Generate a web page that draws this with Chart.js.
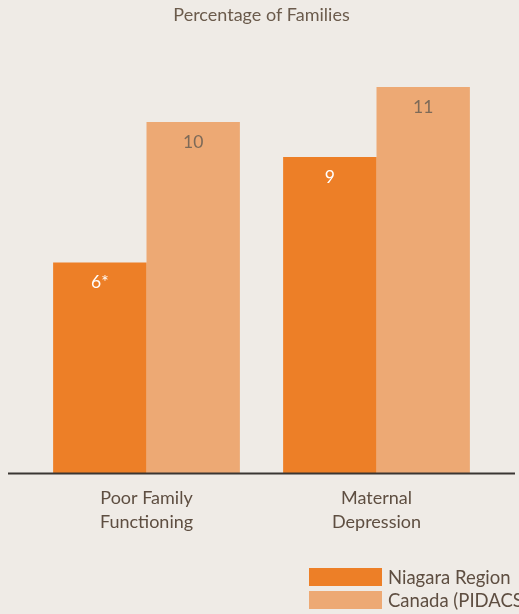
<!DOCTYPE html>
<html><head><meta charset="utf-8">
<script src="https://cdn.jsdelivr.net/npm/chart.js@4"></script>
<style>
html,body{margin:0;padding:0;background:#efebe6;overflow:hidden;}
#wrap{position:relative;width:519px;height:614px;}
#legend{position:absolute;left:309px;top:568px;font-family:Lato,sans-serif;font-size:18.5px;color:#5e4e41;white-space:nowrap;}
.item{display:flex;align-items:center;height:18px;margin-bottom:5px;}
.box{width:73px;height:18px;margin-right:6px;flex:none;}
</style></head><body>
<div id="wrap"><canvas id="c" width="519" height="614"></canvas><div id="legend"></div></div>
<script>
const categories = [["Poor Family","Functioning"],["Maternal","Depression"]];
const seriesNames = ["Niagara Region","Canada (PIDACS)"];
const niagaraValues = [6, 9];
const canadaValues = [10, 11];
const niagaraLabels = ["6*","9"];
const canadaLabels = ["10","11"];
const chartTitle = "Percentage of Families";

const colors = ['#ed7f27','#eda974'];
const labelColors = ['#ffffff','#7d6a58'];
const valueLabels = [niagaraLabels, canadaLabels];

const labelPlugin = {
  id:'valueLabels',
  afterDatasetsDraw(chart){
    const ctx = chart.ctx;
    ctx.save();
    const y0 = chart.scales.y.getPixelForValue(0);
    ctx.strokeStyle = '#3a3633';
    ctx.lineWidth = 2;
    ctx.beginPath();
    ctx.moveTo(8, y0 + 0.5);
    ctx.lineTo(515, y0 + 0.5);
    ctx.stroke();
    ctx.font = '17.5px Lato';
    ctx.textAlign = 'center';
    ctx.textBaseline = 'middle';
    chart.data.datasets.forEach((ds, di) => {
      const meta = chart.getDatasetMeta(di);
      meta.data.forEach((el, i) => {
        ctx.fillStyle = labelColors[di];
        ctx.fillText(valueLabels[di][i], el.x, el.y + 20);
      });
    });
    ctx.restore();
  }
};

new Chart(document.getElementById('c'), {
  type: 'bar',
  data: {
    labels: categories,
    datasets: [
      {label: seriesNames[0], data: niagaraValues, backgroundColor: colors[0], borderWidth:0},
      {label: seriesNames[1], data: canadaValues, backgroundColor: colors[1], borderWidth:0}
    ]
  },
  options: {
    responsive: false,
    animation: false,
    layout: {padding: {left: 31.5, right: 27.5, top: 0, bottom: 67}},
    categoryPercentage: 0.812,
    barPercentage: 1,
    plugins: {
      legend: {display: false},
      tooltip: {enabled: false},
      title: {
        display: true, text: chartTitle, color: '#6b5b4c',
        font: {family: 'Lato', size: 18, weight: 'normal', lineHeight: 1.2},
        padding: {top: 4.5, bottom: 25.7}
      }
    },
    scales: {
      y: {display: false, min: 0, max: 12},
      x: {
        grid: {display: false, drawTicks: false},
        border: {display: false},
        ticks: {color: '#5e4e41', font: {family: 'Lato', size: 18, lineHeight: '24px'}, padding: 13}
      }
    }
  },
  plugins: [labelPlugin]
});

const leg = document.getElementById('legend');
seriesNames.forEach((n, i) => {
  const it = document.createElement('div'); it.className = 'item';
  const b = document.createElement('div'); b.className = 'box'; b.style.background = colors[i];
  const t = document.createElement('span'); t.textContent = n;
  it.appendChild(b); it.appendChild(t); leg.appendChild(it);
});
</script>
</body></html>
